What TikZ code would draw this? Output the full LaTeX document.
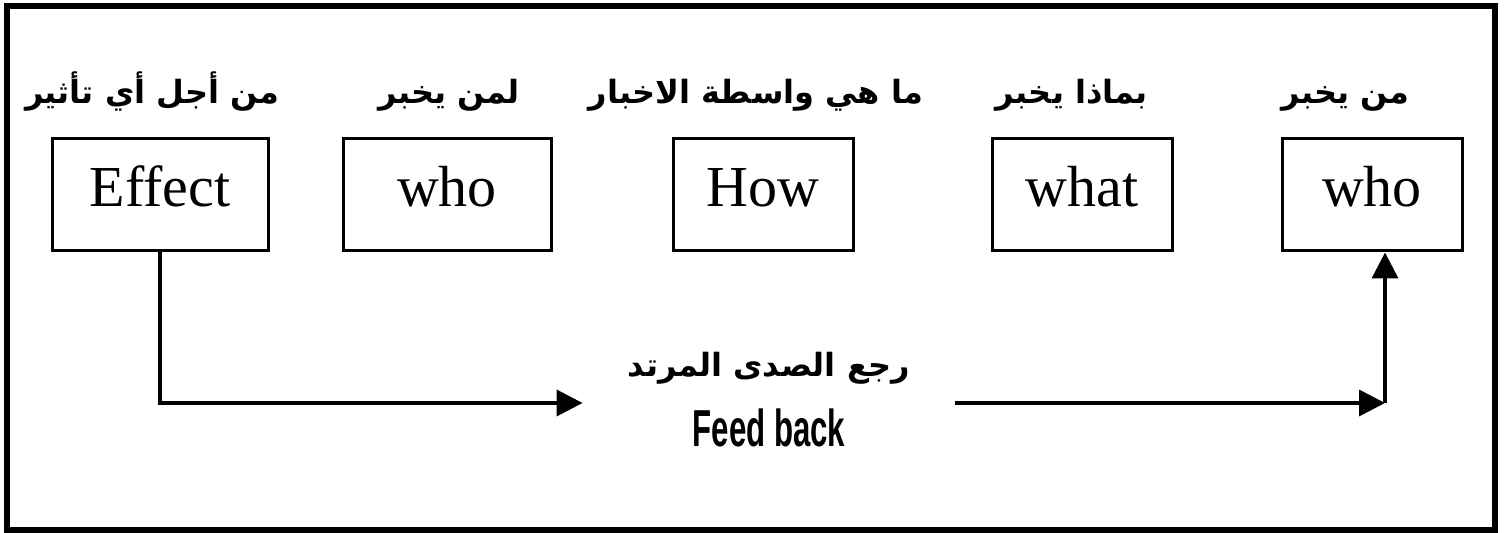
\documentclass[tikz,border=0pt]{standalone}
\usepackage{fontspec}
\setmainfont{Liberation Serif}
\newfontfamily\arabicfont[Script=Arabic]{DejaVu Sans}
\newfontfamily\fbfont[FakeStretch=0.6]{Liberation Sans}
\TeXXeTstate=1
\usetikzlibrary{arrows.meta, positioning}

\newcommand{\artext}[1]{{\arabicfont\bfseries\beginR #1\endR}}

\begin{document}
\begin{tikzpicture}[
  x=0.5pt, y=-0.5pt,
  box/.style={draw, line width=1.5pt, minimum height=56pt, inner sep=0pt,
              text height=20pt, text depth=8pt,
              font=\fontsize{29}{32}\selectfont},
  lbl/.style={font=\fontsize{16}{20}\selectfont, inner sep=0pt},
  fl/.style={-{Triangle[length=13pt, width=13pt]}, line width=1.8pt}
]
\useasboundingbox (0,0) rectangle (1507,533);
\draw[line width=3pt] (7,6) rectangle (1495,530);

% the five boxes
\node[box, minimum width=108pt] (eff) at (160,195) {Effect};
\node[box, minimum width=104pt] (whom) at (447,195) {who};
\node[box, minimum width=90pt] (how) at (763,195) {How};
\node[box, minimum width=90pt] (what) at (1082,195) {what};
\node[box, minimum width=90pt] (who) at (1372,195) {who};

% labels above them
\node[lbl, above=13pt of eff, xshift=-4pt] (effl) {\artext{من أجل أي تأثير}};
\node[lbl, above=13pt of whom, xshift=1pt] (whoml) {\artext{لمن يخبر}};
\node[lbl, above=13pt of how, xshift=-3.5pt] (howl) {\artext{ما هي واسطة الاخبار}};
\node[lbl, above=13pt of what, xshift=-5pt] (whatl) {\artext{بماذا يخبر}};
\node[lbl, above=13pt of who, xshift=-13.5pt] (whol) {\artext{من يخبر}};

% feedback loop
\node[inner sep=0pt, minimum width=186pt, align=center,
      font=\fontsize{16}{35}\selectfont] (fb) at (769,400)
  {\artext{رجع الصدى المرتد}\\
   {\fontsize{26}{35}\selectfont\fbfont\bfseries Feed back}};
\coordinate (back) at (1385,403);

\draw[fl] (eff.south) |- (fb.west |- back);
\draw[fl] (fb.east |- back) -- (back);
\draw[fl] (back) -- (back |- who.south);
\end{tikzpicture}
\end{document}
